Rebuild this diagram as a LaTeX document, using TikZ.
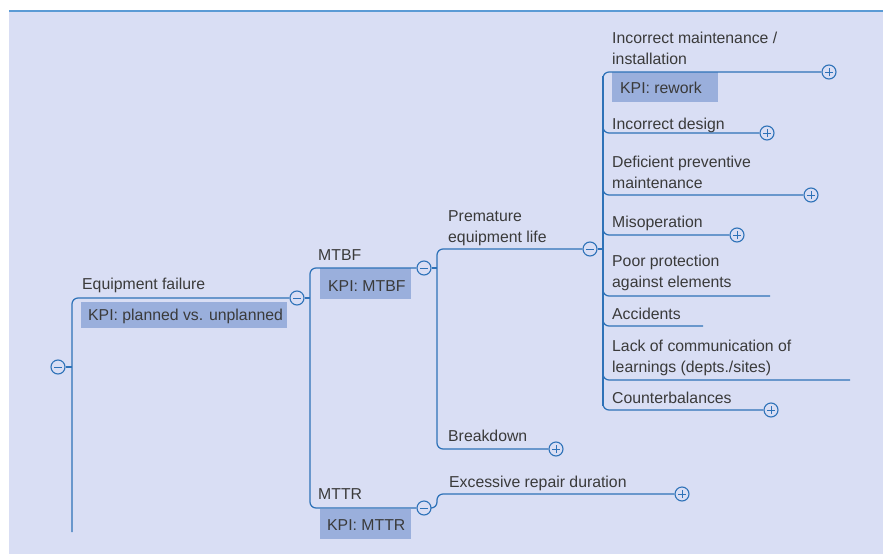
\documentclass[tikz,border=0pt]{standalone}
\usepackage{fontspec}
\setmainfont{Liberation Sans}
\definecolor{panel}{HTML}{D9DEF4}
\definecolor{lineblue}{HTML}{2E72B8}
\definecolor{topblue}{HTML}{5B9BD5}
\definecolor{kpifill}{HTML}{9AAFDC}
\definecolor{txt}{HTML}{3A3A3A}
\tikzset{
  conn/.style={draw=lineblue, line width=1.25pt, rounded corners=6pt},
  tog/.style={circle, draw=lineblue, line width=1.1pt, fill=panel, minimum size=14pt, inner sep=0pt},
  minusbox/.style={tog, path picture={\draw[lineblue,line width=1pt] ([xshift=-4pt]path picture bounding box.center) -- ([xshift=4pt]path picture bounding box.center);}},
  plusbox/.style={tog, path picture={\draw[lineblue,line width=1pt] ([xshift=-4pt]path picture bounding box.center) -- ([xshift=4pt]path picture bounding box.center) ([yshift=-4pt]path picture bounding box.center) -- ([yshift=4pt]path picture bounding box.center);}},
  lbl/.style={anchor=base west, inner sep=0pt, text=txt, font=\fontsize{15.8}{21}\selectfont, align=left},
  kpi/.style={fill=kpifill, inner sep=0pt, anchor=north west, text=txt, font=\fontsize{15.8}{18}\selectfont},
}
\begin{document}
\begin{tikzpicture}[x=1pt,y=-1pt]
\useasboundingbox (0,0) rectangle (883,554);
\fill[white] (0,0) rectangle (883,554);
\fill[panel] (9,11) rectangle (883,554);
\draw[topblue, line width=1.6pt] (9,11) -- (883,11);

% KPI boxes
\node[kpi, minimum width=206pt, minimum height=26pt] (k1) at (81,302) {};
\node[lbl] at (88,320) {KPI: planned vs. unplanned};
\node[kpi, minimum width=91pt, minimum height=31pt] (k2) at (320,268) {};
\node[lbl] at (328,291) {KPI: MTBF};
\node[kpi, minimum width=91pt, minimum height=30pt] (k3) at (320,509) {};
\node[lbl] at (327,530) {KPI: MTTR};
\node[kpi, minimum width=106pt, minimum height=30pt] (k4) at (612,72) {};
\node[lbl] at (620,93) {KPI: rework};

% coordinates
\coordinate (r0) at (72,367);
\coordinate (rbot) at (72,532);
\coordinate (t1) at (310,298);
\coordinate (t2) at (437,268);
\coordinate (t3) at (603,249);
\coordinate (e5) at (770,296);
\coordinate (e6) at (703,326);
\coordinate (e7) at (850,380);

% toggles
\node[minusbox] (c0) at (58,367) {};
\node[minusbox] (c1) at (297,298) {};
\node[minusbox] (c2) at (424,268) {};
\node[minusbox] (c4) at (424,508) {};
\node[minusbox] (c3) at (590,249) {};
\node[plusbox] (p1) at (829,72) {};
\node[plusbox] (p2) at (767,133) {};
\node[plusbox] (p3) at (811,195) {};
\node[plusbox] (p4) at (737,235) {};
\node[plusbox] (p8) at (771,410) {};
\node[plusbox] (p9) at (556,449) {};
\node[plusbox] (p10) at (682,494) {};

% connectors
\draw[conn] (c0.east) -- (r0);
\draw[conn] (rbot) -- (72,298) -- (c1.west);
\draw[conn] (c1.east) -- (t1);
\draw[conn] (c2.west) -- (310,268) -- (310,508) -- (c4.west);
\draw[conn] (c2.east) -- (t2);
\draw[conn] (c3.west) -- (437,249) -- (437,449) -- (p9.west);
\draw[conn] (c4.east) -- (437,508) -- (437,494) -- (p10.west);
\draw[conn] (c3.east) -- (t3);
\draw[conn] (603,80) -- (603,72) -- (p1.west);
\draw[conn] (603,402) -- (603,410) -- (p8.west);
\draw[conn] (603,76) -- (603,406);
\draw[conn] (603,125) -- (603,133) -- (p2.west);
\draw[conn] (603,187) -- (603,195) -- (p3.west);
\draw[conn] (603,227) -- (603,235) -- (p4.west);
\draw[conn] (603,288) -- (603,296) -- (e5);
\draw[conn] (603,318) -- (603,326) -- (e6);
\draw[conn] (603,372) -- (603,380) -- (e7);

% labels
\node[lbl] (l1) at (82,289) {Equipment failure};
\node[lbl] (l2) at (318,260) {MTBF};
\node[lbl] (l3) at (318,499) {MTTR};
\node[lbl] (l4) at (448,242) {Premature\\equipment life};
\node[lbl] (l5) at (448,441) {Breakdown};
\node[lbl] (l6) at (449,487) {Excessive repair duration};
\node[lbl] (m1) at (612,64) {Incorrect maintenance /\\installation};
\node[lbl] (m2) at (612,129) {Incorrect design};
\node[lbl] (m3) at (612,188) {Deficient preventive\\maintenance};
\node[lbl] (m4) at (612,227) {Misoperation};
\node[lbl] (m5) at (612,287) {Poor protection\\against elements};
\node[lbl] (m6) at (612,319) {Accidents};
\node[lbl] (m7) at (612,372) {Lack of communication of\\learnings (depts./sites)};
\node[lbl] (m8) at (612,403) {Counterbalances};
\end{tikzpicture}
\end{document}
